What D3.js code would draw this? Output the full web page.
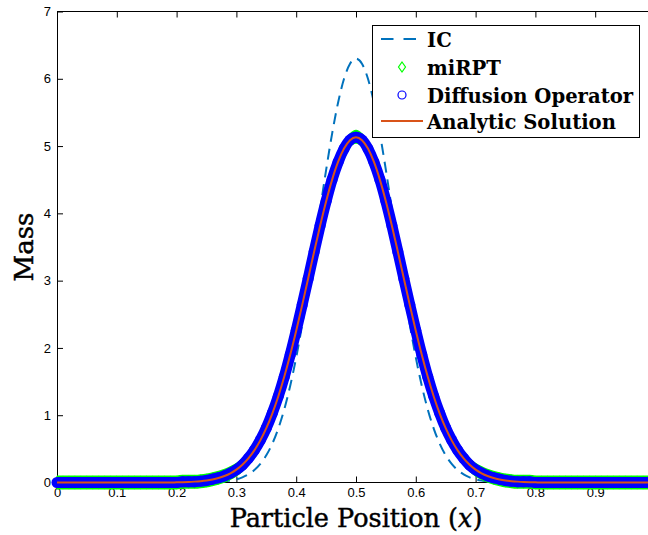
<!DOCTYPE html>
<html>
<head>
<meta charset="utf-8">
<script src="https://cdn.jsdelivr.net/npm/d3@7"></script>
<style>
  html, body { margin: 0; padding: 0; background: #fff; }
  svg { display: block; }
</style>
</head>
<body>
<svg id="chart" width="648" height="535"></svg>
<script>
// ---------------- DATA ----------------
const xPositions = [
  0.00,0.01,0.02,0.03,0.04,0.05,0.06,0.07,0.08,0.09,
  0.10,0.11,0.12,0.13,0.14,0.15,0.16,0.17,0.18,0.19,
  0.20,0.21,0.22,0.23,0.24,0.25,0.26,0.27,0.28,0.29,
  0.30,0.31,0.32,0.33,0.34,0.35,0.36,0.37,0.38,0.39,
  0.40,0.41,0.42,0.43,0.44,0.45,0.46,0.47,0.48,0.49,
  0.50,0.51,0.52,0.53,0.54,0.55,0.56,0.57,0.58,0.59,
  0.60,0.61,0.62,0.63,0.64,0.65,0.66,0.67,0.68,0.69,
  0.70,0.71,0.72,0.73,0.74,0.75,0.76,0.77,0.78,0.79,
  0.80,0.81,0.82,0.83,0.84,0.85,0.86,0.87,0.88,0.89,
  0.90,0.91,0.92,0.93,0.94,0.95,0.96,0.97,0.98,0.99,1.00
];

const icMass = [
  0,0,0,0,0,0,0,0,0,0,
  0,0,0,0,0,0,0,0,0,0,
  0,0,0,0,0,0.003,0.006,0.010,0.017,0.029,
  0.048,0.077,0.121,0.185,0.277,0.404,0.576,0.801,1.086,1.438,
  1.859,2.344,2.884,3.464,4.060,4.643,5.182,5.645,6.000,6.224,
  6.300,6.224,6.000,5.645,5.182,4.643,4.060,3.464,2.884,2.344,
  1.859,1.438,1.086,0.801,0.576,0.404,0.277,0.185,0.121,0.077,
  0.048,0.029,0.017,0.010,0.006,0.003,0,0,0,0,
  0,0,0,0,0,0,0,0,0,0,
  0,0,0,0,0,0,0,0,0,0,0
];

const mirptMass = [
  0,0,0,0,0,0,0,0,0,0,
  0,0,0,0,0,0,0,0,0,0,
  0.00,0.01,0.01,0.01,0.02,0.03,0.05,0.07,0.10,0.14,
  0.19,0.26,0.36,0.48,0.63,0.81,1.03,1.28,1.57,1.90,
  2.26,2.64,3.03,3.43,3.82,4.18,4.50,4.76,4.96,5.09,
  5.14,5.09,4.96,4.76,4.50,4.18,3.82,3.43,3.03,2.64,
  2.26,1.90,1.57,1.28,1.03,0.81,0.63,0.48,0.36,0.26,
  0.19,0.14,0.10,0.07,0.05,0.03,0.02,0.01,0.01,0.01,
  0.00,0,0,0,0,0,0,0,0,0,
  0,0,0,0,0,0,0,0,0,0,0
];

const diffusionMass = [
  0,0,0,0,0,0,0,0,0,0,
  0,0,0,0,0,0,0,0,0,0,
  0.00,0.01,0.01,0.01,0.02,0.03,0.05,0.07,0.10,0.14,
  0.19,0.26,0.36,0.48,0.63,0.81,1.03,1.28,1.57,1.90,
  2.26,2.64,3.03,3.43,3.82,4.18,4.50,4.76,4.96,5.09,
  5.13,5.09,4.96,4.76,4.50,4.18,3.82,3.43,3.03,2.64,
  2.26,1.90,1.57,1.28,1.03,0.81,0.63,0.48,0.36,0.26,
  0.19,0.14,0.10,0.07,0.05,0.03,0.02,0.01,0.01,0.01,
  0.00,0,0,0,0,0,0,0,0,0,
  0,0,0,0,0,0,0,0,0,0,0
];

const analyticMass = [
  0,0,0,0,0,0,0,0,0,0,
  0,0,0,0,0,0,0,0,0,0,
  0.003,0.005,0.008,0.013,0.020,0.030,0.045,0.066,0.096,0.137,
  0.192,0.264,0.358,0.477,0.626,0.807,1.025,1.279,1.571,1.898,
  2.255,2.636,3.032,3.430,3.816,4.177,4.498,4.764,4.964,5.088,
  5.130,5.088,4.964,4.764,4.498,4.177,3.816,3.430,3.032,2.636,
  2.255,1.898,1.571,1.279,1.025,0.807,0.626,0.477,0.358,0.264,
  0.192,0.137,0.096,0.066,0.045,0.030,0.020,0.013,0.008,0.005,
  0.003,0,0,0,0,0,0,0,0,0,
  0,0,0,0,0,0,0,0,0,0,0
];

const xTicks = [0,0.1,0.2,0.3,0.4,0.5,0.6,0.7,0.8,0.9];
const xTickLabels = ["0","0.1","0.2","0.3","0.4","0.5","0.6","0.7","0.8","0.9"];
const yTicks = [0,1,2,3,4,5,6,7];
const yTickLabels = ["0","1","2","3","4","5","6","7"];
const legendLabels = ["IC","miRPT","Diffusion Operator","Analytic Solution"];

// ---------------- CHART ----------------
const svg = d3.select("#chart");
const W = 648, H = 535;
svg.append("rect").attr("width", W).attr("height", H).attr("fill", "#fff");

const x = d3.scaleLinear().domain([0, 1]).range([57, 655]);
const y = d3.scaleLinear().domain([0, 7]).range([482.5, 11.5]);

const tickFont = "'Liberation Sans', Arial, sans-serif";

// axes (drawn beneath the data, MATLAB style)
const gx = svg.append("g").attr("transform", `translate(0,${y(0)})`)
  .call(d3.axisBottom(x).tickValues(xTicks).tickSize(-6).tickSizeOuter(0).tickPadding(5)
        .tickFormat((d, i) => xTickLabels[i]));
const gxTop = svg.append("g").attr("transform", `translate(0,${y(7)})`)
  .call(d3.axisTop(x).tickValues(xTicks).tickSize(-6).tickSizeOuter(0).tickFormat(""));
const gy = svg.append("g").attr("transform", `translate(${x(0)},0)`)
  .call(d3.axisLeft(y).tickValues(yTicks).tickSize(-6).tickSizeOuter(0).tickPadding(6)
        .tickFormat((d, i) => yTickLabels[i]));
[gx, gxTop, gy].forEach(g => {
  g.selectAll("path.domain").attr("stroke", "#000").attr("stroke-width", 1);
  g.selectAll(".tick line").attr("stroke", "#000").attr("stroke-width", 1);
  g.selectAll(".tick text").attr("fill", "#000").style("font-family", tickFont).style("font-size", "13px");
});
// extend the axis lines to the (off-canvas) right limit of the axes box
gx.select("path.domain").attr("d", `M${x(0)},0H${x(1)}`);
gxTop.select("path.domain").attr("d", `M${x(0)},0H${x(1)}`);

const pts = (vals) => xPositions.map((xv, i) => [xv, vals[i]]);
const line = d3.line().x(d => x(d[0])).y(d => y(d[1])).curve(d3.curveMonotoneX);

// IC (dashed)
svg.append("path").datum(pts(icMass))
  .attr("d", line).attr("fill", "none")
  .attr("stroke", "#0072BD").attr("stroke-width", 2).attr("stroke-dasharray", "11,7");

// miRPT markers (dense green diamonds: tall, narrow)
const dHalfH = 7, dHalfW = 4;
const mirptG = svg.append("g");
mirptG.append("path").datum(pts(mirptMass))
  .attr("d", d3.area().x(d => x(d[0])).y0(d => y(d[1]) + dHalfH).y1(d => y(d[1]) - dHalfH).curve(d3.curveMonotoneX))
  .attr("fill", "#00FF00");
mirptG.append("path").datum(pts(mirptMass))
  .attr("d", line).attr("fill", "none")
  .attr("stroke", "#00FF00").attr("stroke-width", dHalfW * 2).attr("stroke-linejoin", "round");
mirptG.selectAll("path.m").data(pts(mirptMass)).join("path").attr("class", "m")
  .attr("transform", d => `translate(${x(d[0])},${y(d[1])})`)
  .attr("d", `M0,${-dHalfH}L${dHalfW},0L0,${dHalfH}L${-dHalfW},0Z`)
  .attr("fill", "#00FF00").attr("stroke", "none");

// Diffusion operator markers (dense blue circles)
const diffG = svg.append("g");
diffG.append("path").datum(pts(diffusionMass))
  .attr("d", line).attr("fill", "none")
  .attr("stroke", "#0000FF").attr("stroke-width", 11).attr("stroke-linejoin", "round");
diffG.selectAll("circle").data(pts(diffusionMass)).join("circle")
  .attr("cx", d => x(d[0])).attr("cy", d => y(d[1])).attr("r", 5.5)
  .attr("fill", "#0000FF").attr("stroke", "none");

// Analytic solution
svg.append("path").datum(pts(analyticMass))
  .attr("d", line).attr("fill", "none")
  .attr("stroke", "#D95319").attr("stroke-width", 2);

// axis titles
svg.append("text")
  .attr("x", 356).attr("y", 527).attr("text-anchor", "middle")
  .style("font-family", "'DejaVu Serif', serif").style("font-size", "25.5px")
  .attr("fill", "#000").attr("stroke", "#000").attr("stroke-width", 0.45)
  .html("Particle Position (<tspan font-style='italic'>x</tspan>)");
svg.append("text")
  .attr("transform", "translate(33,247) rotate(-90)").attr("text-anchor", "middle")
  .style("font-family", "'DejaVu Serif', serif").style("font-size", "26px")
  .attr("fill", "#000").attr("stroke", "#000").attr("stroke-width", 0.45)
  .text("Mass");

// legend
const lg = svg.append("g");
lg.append("rect").attr("x", 372.5).attr("y", 25.5).attr("width", 267).attr("height", 112)
  .attr("fill", "#fff").attr("stroke", "#000").attr("stroke-width", 1);
const rowY = [39, 67, 95, 121];
lg.append("line").attr("x1", 381).attr("x2", 423).attr("y1", rowY[0]).attr("y2", rowY[0])
  .attr("stroke", "#0072BD").attr("stroke-width", 2).attr("stroke-dasharray", "12.5,10");
lg.append("path").attr("transform", `translate(402,${rowY[1]})`)
  .attr("d", "M0,-5L3.5,0L0,5L-3.5,0Z")
  .attr("fill", "none").attr("stroke", "#00FF00").attr("stroke-width", 1.2);
lg.append("circle").attr("cx", 402).attr("cy", rowY[2]).attr("r", 4)
  .attr("fill", "none").attr("stroke", "#0000FF").attr("stroke-width", 1.2);
lg.append("line").attr("x1", 381).attr("x2", 423).attr("y1", rowY[3]).attr("y2", rowY[3])
  .attr("stroke", "#D95319").attr("stroke-width", 2);
lg.selectAll("text.lab").data(legendLabels).join("text").attr("class", "lab")
  .attr("x", 427).attr("y", (d, i) => rowY[i] + 7.5)
  .style("font-family", "'DejaVu Serif', serif").style("font-weight", "bold").style("font-size", "19.6px")
  .attr("fill", "#000").text(d => d);
</script>
</body>
</html>
